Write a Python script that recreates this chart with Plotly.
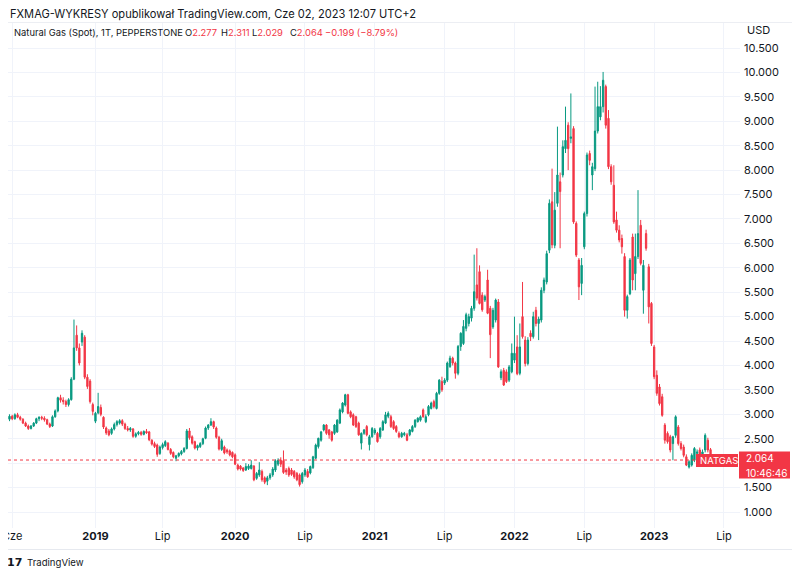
import pandas as pd
import plotly.graph_objects as go

# ---------------- data (weekly candles, first bar 2018-05-28) ----------------
dates = pd.date_range("2018-05-28", periods=262, freq="7D")

opens = [
 2.90,2.96,2.91,2.99,2.94,2.90,2.82,2.76,2.71,2.76, 2.82,2.91,2.94,2.92,2.89,2.80,2.76,2.95,3.07,3.34,
 3.29,3.26,3.20,3.30,3.72,4.62,4.36,4.48,4.58,3.76, 3.68,3.20,2.86,3.03,3.14,2.94,2.72,2.66,2.61,2.70,
 2.79,2.82,2.87,2.80,2.71,2.68,2.70,2.55,2.60,2.63, 2.59,2.65,2.64,2.47,2.40,2.37,2.20,2.32,2.36,2.41,
 2.28,2.22,2.10,2.15,2.19,2.24,2.30,2.66,2.54,2.44, 2.31,2.34,2.40,2.51,2.72,2.78,2.85,2.72,2.53,2.28,
 2.33,2.27,2.25,2.22,2.17,1.96,1.94,1.90,1.86,1.89, 1.89,1.94,1.69,1.76,1.83,1.70,1.63,1.70,1.76,1.86,
 1.98,2.06,2.05,1.86,1.89,1.86,1.83,1.79,1.76,1.62, 1.76,1.83,1.80,1.91,2.10,2.34,2.47,2.68,2.78,2.68,
 2.64,2.61,2.64,2.82,3.05,3.19,3.40,3.05,2.99,2.95, 2.82,2.41,2.61,2.75,2.38,2.54,2.62,2.61,2.54,2.68,
 2.82,2.96,2.95,2.85,2.75,2.61,2.54,2.58,2.58,2.58, 2.65,2.75,2.85,2.88,3.09,2.85,2.99,3.12,3.26,3.12,
 3.43,3.67,3.64,3.70,3.98,4.15,4.05,3.84,4.39,4.45, 4.76,4.86,4.97,5.17,5.65,5.92,5.44,5.34,5.75,5.17,
 4.79,4.93,5.30,3.75,3.90,3.87,3.70,3.87,4.11,4.38, 3.84,5.00,4.52,4.04,4.66,4.59,5.13,4.86,4.93,5.54,
 5.71,6.36,7.35,6.46,7.32,7.76,7.90,8.44,8.92,8.65, 8.85,6.91,6.16,5.68,6.43,7.11,8.34,7.90,8.03,8.80,
 9.09,9.30,9.71,9.06,8.07,7.69,6.98,6.77,6.60,6.23, 5.13,5.47,6.63,5.88,6.23,6.87,5.54,6.70,6.02,5.27,
 4.38,3.80,3.56,3.36,2.78,2.61,2.54,2.40,2.57,2.74, 2.40,2.33,2.13,1.92,1.96,2.06,2.20,2.27,2.13,2.27,
 2.47,2.277]

highs = [
 3.00,2.99,3.02,3.03,2.97,2.92,2.85,2.79,2.78,2.84, 2.93,2.96,2.97,2.96,2.91,2.83,2.98,3.10,3.36,3.40,
 3.35,3.30,3.33,3.76,4.94,4.82,4.45,4.72,4.62,3.82, 3.72,3.24,3.05,3.44,3.20,2.96,2.75,2.70,2.73,2.83,
 2.88,2.90,2.90,2.83,2.76,2.74,2.72,2.63,2.66,2.66, 2.67,2.70,2.66,2.49,2.44,2.40,2.36,2.42,2.47,2.43,
 2.31,2.24,2.17,2.22,2.27,2.33,2.70,2.72,2.57,2.46, 2.38,2.43,2.52,2.75,2.80,2.92,2.87,2.75,2.56,2.50,
 2.36,2.30,2.28,2.24,2.20,1.99,1.96,1.92,2.00,1.98, 2.06,1.96,1.82,2.02,1.87,1.73,1.74,1.80,1.92,2.08,
 2.10,2.12,2.26,1.90,1.93,1.90,1.86,1.82,1.79,1.82, 1.90,1.88,1.95,2.15,2.40,2.52,2.66,2.80,2.80,2.70,
 2.66,2.80,2.90,3.12,3.25,3.42,3.42,3.08,3.02,2.97, 2.85,2.63,2.70,2.78,2.58,2.74,2.72,2.64,2.74,2.88,
 3.05,3.06,2.99,2.88,2.78,2.65,2.64,2.64,2.62,2.70, 2.78,2.90,2.94,2.98,3.12,3.00,3.19,3.26,3.30,3.46,
 3.72,3.77,3.74,4.08,4.20,4.18,4.08,4.42,4.68,4.93, 5.08,5.06,5.22,6.27,6.40,6.05,5.50,5.45,5.96,5.22,
 5.18,5.37,5.36,3.92,3.95,3.92,4.01,4.45,5.00,4.62, 4.86,5.71,4.60,4.58,4.72,5.10,5.20,5.00,5.60,5.80,
 6.35,7.40,8.03,7.55,8.89,7.95,8.61,9.30,8.98,9.57, 8.90,6.95,6.20,6.20,7.15,8.36,8.40,8.15,9.71,9.81,
 9.72,10.01,9.75,9.23,8.12,8.10,7.15,6.87,6.68,6.30, 5.45,6.20,6.70,6.70,7.59,6.98,6.16,6.78,6.08,5.30,
 4.42,3.90,3.62,3.42,2.82,2.65,2.58,2.56,2.98,2.78, 2.45,2.38,2.18,2.06,2.20,2.33,2.28,2.32,2.28,2.61,
 2.52,2.311]

lows = [
 2.86,2.88,2.89,2.92,2.87,2.80,2.74,2.68,2.69,2.74, 2.80,2.86,2.88,2.85,2.78,2.72,2.74,2.93,3.04,3.24,
 3.20,3.15,3.16,3.28,3.70,4.30,4.00,4.40,3.72,3.52, 3.22,2.98,2.82,3.00,2.96,2.70,2.58,2.55,2.58,2.67,
 2.75,2.79,2.76,2.68,2.65,2.64,2.52,2.52,2.57,2.56, 2.57,2.60,2.45,2.36,2.31,2.13,2.17,2.28,2.33,2.26,
 2.17,2.10,2.04,2.12,2.16,2.21,2.28,2.48,2.38,2.28, 2.26,2.31,2.37,2.49,2.68,2.76,2.70,2.50,2.26,2.25,
 2.18,2.19,2.14,2.10,1.96,1.85,1.85,1.82,1.84,1.86, 1.87,1.63,1.66,1.72,1.62,1.57,1.55,1.66,1.72,1.82,
 1.94,1.92,1.78,1.76,1.72,1.74,1.68,1.63,1.52,1.58, 1.72,1.70,1.77,1.88,2.08,2.30,2.44,2.65,2.58,2.50,
 2.44,2.58,2.62,2.80,3.02,3.16,3.00,2.92,2.76,2.72, 2.56,2.28,2.58,2.55,2.26,2.52,2.58,2.42,2.50,2.66,
 2.80,2.92,2.72,2.68,2.62,2.51,2.52,2.55,2.45,2.55, 2.63,2.72,2.83,2.85,2.93,2.82,2.96,3.10,3.12,3.10,
 3.40,3.46,3.60,3.66,3.95,4.00,3.73,3.80,4.30,4.42, 4.70,4.80,4.90,5.12,5.33,5.25,5.10,5.30,5.05,4.15,
 4.75,4.88,3.95,3.70,3.58,3.64,3.66,3.84,4.05,3.80, 3.80,4.55,3.98,4.00,4.50,4.55,4.80,4.52,4.88,5.48,
 5.66,6.30,6.40,6.40,7.25,6.40,7.85,8.35,8.00,8.55, 6.90,6.22,5.34,5.44,6.38,7.05,8.10,7.59,7.98,8.75,
 9.02,9.18,8.85,8.02,7.70,6.90,6.72,6.52,6.29,5.00, 4.96,5.44,5.54,5.54,6.18,6.05,5.06,6.35,4.86,4.40,
 3.72,3.38,3.18,2.95,2.40,2.40,2.22,2.06,2.52,2.36, 2.26,2.12,1.94,1.89,1.93,2.02,2.14,2.10,2.10,2.22,
 2.22,2.029]

closes = [
 2.96,2.91,2.99,2.94,2.90,2.82,2.76,2.71,2.76,2.82, 2.91,2.94,2.92,2.89,2.80,2.75,2.95,3.07,3.34,3.29,
 3.26,3.20,3.30,3.72,4.36,4.36,4.05,4.66,3.76,3.57, 3.26,3.06,3.02,3.16,3.00,2.74,2.62,2.58,2.70,2.79,
 2.85,2.87,2.80,2.71,2.68,2.71,2.55,2.60,2.63,2.59, 2.65,2.62,2.48,2.39,2.34,2.18,2.33,2.38,2.44,2.28,
 2.20,2.13,2.15,2.20,2.24,2.30,2.66,2.52,2.41,2.31, 2.36,2.40,2.50,2.72,2.78,2.85,2.74,2.53,2.29,2.46,
 2.21,2.23,2.17,2.13,1.98,1.88,1.88,1.85,1.93,1.94, 1.96,1.66,1.79,1.86,1.66,1.61,1.70,1.76,1.88,2.05,
 2.06,1.98,1.81,1.82,1.76,1.77,1.72,1.66,1.56,1.79, 1.86,1.72,1.93,2.13,2.37,2.51,2.64,2.78,2.61,2.58,
 2.47,2.78,2.88,3.09,3.23,3.40,3.02,2.95,2.78,2.75, 2.58,2.61,2.68,2.58,2.54,2.71,2.68,2.44,2.71,2.85,
 2.99,3.02,2.75,2.71,2.65,2.54,2.61,2.61,2.47,2.68, 2.75,2.88,2.92,2.95,2.95,2.95,3.16,3.23,3.16,3.43,
 3.70,3.50,3.70,4.05,4.15,4.05,3.84,4.39,4.66,4.80, 5.04,5.00,5.17,5.51,5.38,5.27,5.14,5.41,5.07,4.63,
 5.13,5.34,3.97,3.87,3.60,3.67,3.97,4.25,4.25,3.83, 4.38,4.59,4.04,4.52,4.59,5.00,4.86,4.95,5.54,5.75,
 6.29,7.32,6.47,7.18,7.90,7.56,8.48,8.61,8.44,8.68, 6.94,6.26,5.61,6.05,7.11,8.31,8.20,8.07,8.80,9.30,
 9.30,9.84,8.92,8.07,7.76,6.94,6.77,6.57,6.43,5.13, 5.41,6.16,5.75,6.23,6.70,6.09,6.05,6.40,5.20,4.45,
 3.77,3.43,3.22,2.98,2.47,2.44,2.27,2.54,2.95,2.40, 2.30,2.16,1.96,2.03,2.16,2.30,2.23,2.13,2.23,2.57,
 2.27,2.064]

y_ticks = [1.0, 1.5, 2.0, 2.5, 3.0, 3.5, 4.0, 4.5, 5.0, 5.5, 6.0, 6.5, 7.0, 7.5,
           8.0, 8.5, 9.0, 9.5, 10.0, 10.5]
y_hidden_tick = 2.0            # label covered by the last-price badge
x_tick_dates = ["2018-06-04", "2019-01-07", "2019-07-01", "2020-01-06", "2020-07-06",
                "2021-01-04", "2021-07-05", "2022-01-03", "2022-07-04", "2023-01-02",
                "2023-07-03"]
x_tick_text = ["Cze", "<b>2019</b>", "Lip", "<b>2020</b>", "Lip", "<b>2021</b>", "Lip",
               "<b>2022</b>", "Lip", "<b>2023</b>", "Lip"]
last_price = 2.064
last_open, last_high, last_low, last_close = "2.277", "2.311", "2.029", "2.064"
change_text = "−0.199 (−8.79%)"

# ---------------- styling ----------------
UP = "#089981"
DOWN = "#F23645"
TXT = "#131722"
GRID = "#f0f3fa"
FONT = "Inter, Roboto, sans-serif"

OFF = 8                         # page body margin of the html page
W, H = 800 - OFF, 576 - OFF     # figure size
# plot area in page pixels
P_L, P_R, P_T, P_B = 8, 740, 22, 528


def px(xp):
    """page x pixel -> paper x"""
    return (xp - P_L) / (P_R - P_L)


def py(yp):
    """page y pixel -> paper y"""
    return (P_B - yp) / (P_B - P_T)


fig = go.Figure()
fig.add_trace(go.Candlestick(
    x=dates, open=opens, high=highs, low=lows, close=closes,
    increasing=dict(line=dict(color=UP, width=1), fillcolor=UP),
    decreasing=dict(line=dict(color=DOWN, width=1), fillcolor=DOWN),
    whiskerwidth=0, showlegend=False, hoverinfo="skip",
))

fig.update_layout(
    width=W, height=H,
    margin=dict(l=P_L - OFF, r=800 - P_R, t=P_T - OFF, b=576 - P_B, autoexpand=False),
    paper_bgcolor="white", plot_bgcolor="white",
    font=dict(family=FONT, color=TXT, size=11),
    showlegend=False,
    xaxis=dict(
        type="date",
        range=["2018-05-24 02:00", "2023-08-13 19:00"],
        tickvals=x_tick_dates, ticktext=x_tick_text,
        showgrid=True, gridcolor=GRID, gridwidth=1,
        zeroline=False, showline=False, ticks="",
        ticklabeloverflow="allow", automargin=False,
        tickfont=dict(size=11, color=TXT),
        rangeslider=dict(visible=False), fixedrange=True,
    ),
    yaxis=dict(
        side="right",
        range=[1 - (P_B - 512) / 48.84, 1 + (512 - P_T) / 48.84],
        tickvals=y_ticks,
        ticktext=["" if v == y_hidden_tick else f"{v:.3f}" for v in y_ticks],
        showgrid=True, gridcolor=GRID, gridwidth=1,
        zeroline=False, showline=False, ticks="",
        ticklabelstandoff=3, automargin=False,
        tickfont=dict(size=11, color=TXT),
        fixedrange=True,
    ),
)

shapes = [
    # last price dotted line
    dict(type="line", xref="paper", yref="y", x0=0, x1=1, y0=last_price, y1=last_price,
         line=dict(color=DOWN, width=1, dash="dot")),
    # symbol label box
    dict(type="rect", xref="paper", yref="paper", x0=px(696), x1=px(738),
         y0=py(467), y1=py(454), fillcolor=DOWN, line=dict(width=0), layer="above"),
    # price label box on axis
    dict(type="rect", xref="paper", yref="paper", x0=px(739), x1=px(790),
         y0=py(478.5), y1=py(451.5), fillcolor=DOWN, line=dict(width=0), layer="above"),
    # footer separator
    dict(type="line", xref="paper", yref="paper", x0=px(8), x1=px(792), y0=py(549.5), y1=py(549.5),
         line=dict(color="#e6e9ef", width=1)),
    # pane top border
    dict(type="line", xref="paper", yref="paper", x0=px(8), x1=px(792), y0=py(22.5), y1=py(22.5),
         line=dict(color="#eceef3", width=1)),
]
fig.update_layout(shapes=shapes)

red = DOWN
LEG = 9.4
ann = [
    dict(text="FXMAG-WYKRESY opublikował TradingView.com, Cze 02, 2023 12:07 UTC+2",
         x=px(9), y=py(14.5), font=dict(size=11.1, color=TXT)),
    dict(text="Natural Gas (Spot), 1T, PEPPERSTONE",
         x=px(13), y=py(33), font=dict(size=LEG, color=TXT)),
    dict(text=f"O<span style='color:{red}'>{last_open}</span>",
         x=px(184), y=py(33), font=dict(size=LEG, color=TXT)),
    dict(text=f"H<span style='color:{red}'>{last_high}</span>",
         x=px(220), y=py(33), font=dict(size=LEG, color=TXT)),
    dict(text=f"L<span style='color:{red}'>{last_low}</span>",
         x=px(251), y=py(33), font=dict(size=LEG, color=TXT)),
    dict(text=f"C<span style='color:{red}'>{last_close}</span>",
         x=px(289), y=py(33), font=dict(size=LEG, color=TXT)),
    dict(text=change_text,
         x=px(324), y=py(33), font=dict(size=LEG, color=red)),
    dict(text="USD", x=px(746), y=py(30), font=dict(size=11, color=TXT)),
    dict(text="NATGAS", x=px(699), y=py(460.5), font=dict(size=9.5, color="white")),
    dict(text="2.064", x=px(745), y=py(458), font=dict(size=10, color="white")),
    dict(text="10:46:46", x=px(745), y=py(472.5), font=dict(size=10, color="white")),
    dict(text="<b>17</b>", x=px(6), y=py(562), font=dict(size=11, color=TXT, family="DejaVu Sans")),
    dict(text="TradingView", x=px(26), y=py(562), font=dict(size=9.6, color=TXT)),
]
for a in ann:
    a.setdefault("xref", "paper")
    a.setdefault("yref", "paper")
    a["xanchor"] = "left"
    a["yanchor"] = "middle"
    a["align"] = "left"
    a["borderpad"] = 0
    a["showarrow"] = False
fig.update_layout(annotations=ann)

fig.write_html("out.html")
